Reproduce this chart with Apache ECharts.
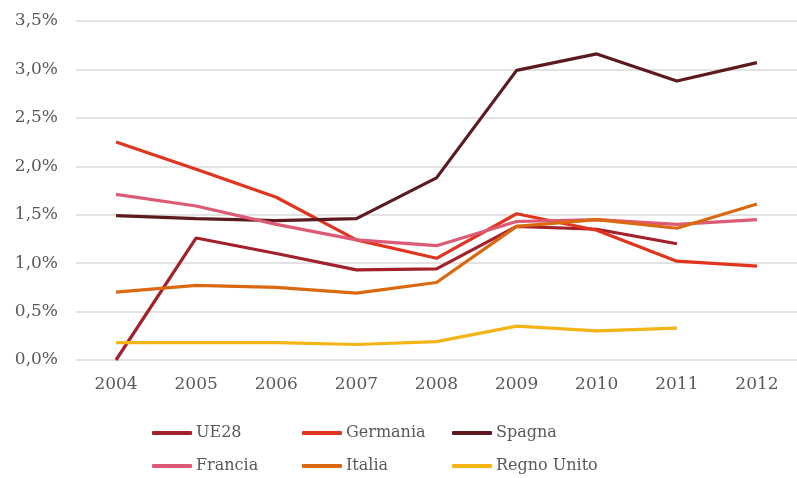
<!DOCTYPE html>
<html><head><meta charset="utf-8">
<script src="https://cdn.jsdelivr.net/npm/echarts@6/dist/echarts.min.js"></script>
<style>html,body{margin:0;padding:0;background:#fff}#c{width:797px;height:478px}</style>
</head><body><div id="c"></div>
<script>
const years = ['2004','2005','2006','2007','2008','2009','2010','2011','2012'];
const ue28 = [0.00, 1.26, 1.10, 0.93, 0.94, 1.38, 1.35, 1.20, null];
const germania = [2.25, 1.97, 1.68, 1.24, 1.05, 1.51, 1.34, 1.02, 0.97];
const spagna = [1.49, 1.46, 1.44, 1.46, 1.88, 2.99, 3.16, 2.88, 3.07];
const francia = [1.71, 1.59, 1.40, 1.24, 1.18, 1.43, 1.45, 1.40, 1.45];
const italia = [0.70, 0.77, 0.75, 0.69, 0.80, 1.38, 1.45, 1.36, 1.61];
const regnoUnito = [0.18, 0.18, 0.18, 0.16, 0.19, 0.35, 0.30, 0.33, null];

const names = ['UE28','Germania','Spagna','Francia','Italia','Regno Unito'];
const datas = [ue28, germania, spagna, francia, italia, regnoUnito];
const colors = ['#a3212b','#e0341f','#5c1a1f','#dc5a74','#d9680f','#f5b416'];
const font = 'DejaVu Serif';
const txt = '#595959';

const legendPos = [[147,420],[297,420],[447,420],[147,453],[297,453],[447,453]];
const legends = names.map((n,i)=>({
  data:[n], left:legendPos[i][0], top:legendPos[i][1],
  icon:'roundRect', itemWidth:40, itemHeight:4, itemGap:0,
  textStyle:{fontFamily:font, fontSize:16, color:txt, padding:[0,0,0,-1]}
}));

const chart = echarts.init(document.getElementById('c'));
chart.setOption({
  animation:false,
  color: colors,
  grid:{left:76, top:21, width:729, height:339},
  legend: legends,
  xAxis:{type:'category', data:years, boundaryGap:true,
    axisLine:{show:false}, axisTick:{show:false},
    axisLabel:{fontFamily:font, fontSize:17, color:txt, margin:16}},
  yAxis:{type:'value', min:0, max:3.5, interval:0.5,
    axisLine:{show:false}, axisTick:{show:false},
    splitLine:{lineStyle:{color:'#d9d9d9', width:1.5}},
    axisLabel:{fontFamily:font, fontSize:17, color:txt, margin:18,
      formatter:v=>v.toFixed(1).replace('.',',')+'%'}},
  series: names.map((n,i)=>({
    name:n, type:'line', data:datas[i], symbol:'none',
    lineStyle:{width:3.2, color:colors[i]}, itemStyle:{color:colors[i]}
  }))
});
</script></body></html>
